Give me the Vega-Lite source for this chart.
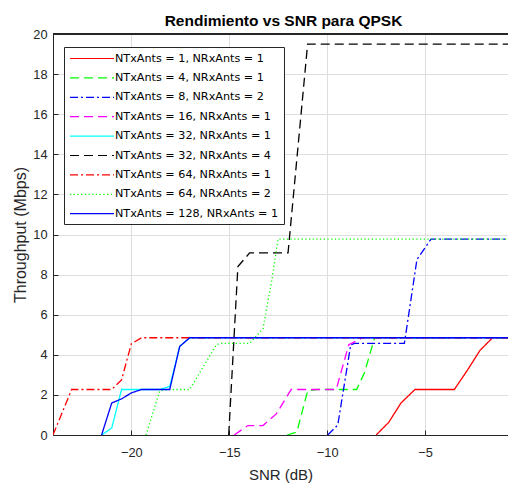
{
  "$schema": "https://vega.github.io/schema/vega-lite/v6.json",
  "width": 455,
  "height": 401,
  "autosize": {"type": "none"},
  "padding": {"left": 53, "top": 34, "right": 0, "bottom": 50},
  "background": "white",
  "title": {"text": "Rendimiento vs SNR para QPSK", "font": "Arial", "fontSize": 15.5, "fontWeight": "bold", "color": "black", "offset": 0, "dx": 3, "dy": 1.5},
  "config": {
    "view": {"stroke": null},
    "axis": {"domainColor": "#262626", "domainWidth": 1, "tickColor": "#262626", "tickSize": -5, "labelColor": "#262626", "labelFont": "Arial", "labelFontSize": 12.8, "titleFont": "Arial", "titleFontWeight": "normal", "titleColor": "#262626", "gridColor": "#dedede", "gridWidth": 1}
  },
  "data": {"values": [
    {"series": "NTxAnts = 1, NRxAnts = 1", "snr": -7.5, "thr": 0},
    {"series": "NTxAnts = 1, NRxAnts = 1", "snr": -6.86, "thr": 0.63},
    {"series": "NTxAnts = 1, NRxAnts = 1", "snr": -6.23, "thr": 1.6},
    {"series": "NTxAnts = 1, NRxAnts = 1", "snr": -5.52, "thr": 2.27},
    {"series": "NTxAnts = 1, NRxAnts = 1", "snr": -3.51, "thr": 2.27},
    {"series": "NTxAnts = 1, NRxAnts = 1", "snr": -2.83, "thr": 3.25},
    {"series": "NTxAnts = 1, NRxAnts = 1", "snr": -2.2, "thr": 4.22},
    {"series": "NTxAnts = 1, NRxAnts = 1", "snr": -1.56, "thr": 4.85},
    {"series": "NTxAnts = 1, NRxAnts = 1", "snr": -0.5, "thr": 4.85},
    {"series": "NTxAnts = 4, NRxAnts = 1", "snr": -12.05, "thr": 0},
    {"series": "NTxAnts = 4, NRxAnts = 1", "snr": -11.55, "thr": 0.15},
    {"series": "NTxAnts = 4, NRxAnts = 1", "snr": -11.0, "thr": 2.2},
    {"series": "NTxAnts = 4, NRxAnts = 1", "snr": -10.55, "thr": 2.27},
    {"series": "NTxAnts = 4, NRxAnts = 1", "snr": -8.5, "thr": 2.27},
    {"series": "NTxAnts = 4, NRxAnts = 1", "snr": -8.1, "thr": 3.1},
    {"series": "NTxAnts = 4, NRxAnts = 1", "snr": -7.58, "thr": 4.85},
    {"series": "NTxAnts = 4, NRxAnts = 1", "snr": -0.5, "thr": 4.85},
    {"series": "NTxAnts = 8, NRxAnts = 2", "snr": -9.97, "thr": 0},
    {"series": "NTxAnts = 8, NRxAnts = 2", "snr": -9.46, "thr": 0.5},
    {"series": "NTxAnts = 8, NRxAnts = 2", "snr": -8.8, "thr": 4.5},
    {"series": "NTxAnts = 8, NRxAnts = 2", "snr": -8.6, "thr": 4.57},
    {"series": "NTxAnts = 8, NRxAnts = 2", "snr": -6.06, "thr": 4.57},
    {"series": "NTxAnts = 8, NRxAnts = 2", "snr": -5.42, "thr": 8.75},
    {"series": "NTxAnts = 8, NRxAnts = 2", "snr": -4.7, "thr": 9.77},
    {"series": "NTxAnts = 8, NRxAnts = 2", "snr": -0.5, "thr": 9.77},
    {"series": "NTxAnts = 16, NRxAnts = 1", "snr": -14.75, "thr": 0},
    {"series": "NTxAnts = 16, NRxAnts = 1", "snr": -14.05, "thr": 0.47},
    {"series": "NTxAnts = 16, NRxAnts = 1", "snr": -13.28, "thr": 0.47},
    {"series": "NTxAnts = 16, NRxAnts = 1", "snr": -12.6, "thr": 1.05},
    {"series": "NTxAnts = 16, NRxAnts = 1", "snr": -11.84, "thr": 2.27},
    {"series": "NTxAnts = 16, NRxAnts = 1", "snr": -9.54, "thr": 2.27},
    {"series": "NTxAnts = 16, NRxAnts = 1", "snr": -8.9, "thr": 4.5},
    {"series": "NTxAnts = 16, NRxAnts = 1", "snr": -8.2, "thr": 4.85},
    {"series": "NTxAnts = 16, NRxAnts = 1", "snr": -0.5, "thr": 4.85},
    {"series": "NTxAnts = 32, NRxAnts = 1", "snr": -21.52, "thr": 0},
    {"series": "NTxAnts = 32, NRxAnts = 1", "snr": -21.0, "thr": 0.35},
    {"series": "NTxAnts = 32, NRxAnts = 1", "snr": -20.5, "thr": 2.27},
    {"series": "NTxAnts = 32, NRxAnts = 1", "snr": -18.55, "thr": 2.27},
    {"series": "NTxAnts = 32, NRxAnts = 1", "snr": -18.04, "thr": 2.42},
    {"series": "NTxAnts = 32, NRxAnts = 1", "snr": -17.53, "thr": 4.42},
    {"series": "NTxAnts = 32, NRxAnts = 1", "snr": -17.02, "thr": 4.85},
    {"series": "NTxAnts = 32, NRxAnts = 1", "snr": -0.5, "thr": 4.85},
    {"series": "NTxAnts = 32, NRxAnts = 4", "snr": -15.03, "thr": 0},
    {"series": "NTxAnts = 32, NRxAnts = 4", "snr": -14.56, "thr": 8.4},
    {"series": "NTxAnts = 32, NRxAnts = 4", "snr": -13.96, "thr": 9.08},
    {"series": "NTxAnts = 32, NRxAnts = 4", "snr": -12.0, "thr": 9.08},
    {"series": "NTxAnts = 32, NRxAnts = 4", "snr": -11.0, "thr": 19.5},
    {"series": "NTxAnts = 32, NRxAnts = 4", "snr": -0.5, "thr": 19.5},
    {"series": "NTxAnts = 64, NRxAnts = 1", "snr": -24.0, "thr": 0},
    {"series": "NTxAnts = 64, NRxAnts = 1", "snr": -23.05, "thr": 2.27},
    {"series": "NTxAnts = 64, NRxAnts = 1", "snr": -21.0, "thr": 2.27},
    {"series": "NTxAnts = 64, NRxAnts = 1", "snr": -20.5, "thr": 2.75},
    {"series": "NTxAnts = 64, NRxAnts = 1", "snr": -20.0, "thr": 4.55},
    {"series": "NTxAnts = 64, NRxAnts = 1", "snr": -19.48, "thr": 4.85},
    {"series": "NTxAnts = 64, NRxAnts = 1", "snr": -0.5, "thr": 4.85},
    {"series": "NTxAnts = 64, NRxAnts = 2", "snr": -19.25, "thr": 0},
    {"series": "NTxAnts = 64, NRxAnts = 2", "snr": -18.55, "thr": 2.2},
    {"series": "NTxAnts = 64, NRxAnts = 2", "snr": -18.04, "thr": 2.27},
    {"series": "NTxAnts = 64, NRxAnts = 2", "snr": -17.02, "thr": 2.27},
    {"series": "NTxAnts = 64, NRxAnts = 2", "snr": -15.66, "thr": 4.5},
    {"series": "NTxAnts = 64, NRxAnts = 2", "snr": -15.4, "thr": 4.57},
    {"series": "NTxAnts = 64, NRxAnts = 2", "snr": -13.96, "thr": 4.57},
    {"series": "NTxAnts = 64, NRxAnts = 2", "snr": -13.28, "thr": 5.3},
    {"series": "NTxAnts = 64, NRxAnts = 2", "snr": -12.85, "thr": 7.6},
    {"series": "NTxAnts = 64, NRxAnts = 2", "snr": -12.51, "thr": 9.77},
    {"series": "NTxAnts = 64, NRxAnts = 2", "snr": -0.5, "thr": 9.77},
    {"series": "NTxAnts = 128, NRxAnts = 1", "snr": -21.52, "thr": 0},
    {"series": "NTxAnts = 128, NRxAnts = 1", "snr": -21.0, "thr": 1.6},
    {"series": "NTxAnts = 128, NRxAnts = 1", "snr": -20.5, "thr": 1.8},
    {"series": "NTxAnts = 128, NRxAnts = 1", "snr": -20.0, "thr": 2.1},
    {"series": "NTxAnts = 128, NRxAnts = 1", "snr": -19.48, "thr": 2.27},
    {"series": "NTxAnts = 128, NRxAnts = 1", "snr": -18.04, "thr": 2.27},
    {"series": "NTxAnts = 128, NRxAnts = 1", "snr": -17.53, "thr": 4.42},
    {"series": "NTxAnts = 128, NRxAnts = 1", "snr": -17.02, "thr": 4.85},
    {"series": "NTxAnts = 128, NRxAnts = 1", "snr": -0.5, "thr": 4.85}
  ]},
  "layer": [
    {
      "mark": {"type": "line", "clip": true, "strokeWidth": 1.3},
      "encoding": {
        "x": {"field": "snr", "type": "quantitative", "scale": {"domain": [-24, -0.77], "nice": false, "zero": false},
              "axis": {"values": [-20, -15, -10, -5], "title": "SNR (dB)", "titleFontSize": 15, "labelPadding": 16, "titlePadding": 9}},
        "y": {"field": "thr", "type": "quantitative", "scale": {"domain": [0, 20], "nice": false},
              "axis": {"values": [0, 2, 4, 6, 8, 10, 12, 14, 16, 18, 20], "title": "Throughput (Mbps)", "titleFontSize": 16, "labelPadding": 11, "titlePadding": 4}},
        "color": {"field": "series", "type": "nominal",
          "scale": {"domain": ["NTxAnts = 1, NRxAnts = 1", "NTxAnts = 4, NRxAnts = 1", "NTxAnts = 8, NRxAnts = 2", "NTxAnts = 16, NRxAnts = 1", "NTxAnts = 32, NRxAnts = 1", "NTxAnts = 32, NRxAnts = 4", "NTxAnts = 64, NRxAnts = 1", "NTxAnts = 64, NRxAnts = 2", "NTxAnts = 128, NRxAnts = 1"],
                    "range": ["#ff0000", "#00ff00", "#0000ff", "#ff00ff", "#00ffff", "#000000", "#ff0000", "#00ff00", "#0000ff"]},
          "legend": {"orient": "none", "legendX": 11, "legendY": 13, "title": null, "symbolType": "M-1,0H7", "symbolSize": 121, "symbolStrokeWidth": 1.2, "labelFont": "DejaVu Sans", "labelFontSize": 11.2, "labelColor": "black", "labelOffset": 33, "labelLimit": 400, "rowPadding": 7.4, "padding": 5, "strokeColor": "#262626", "fillColor": "white", "cornerRadius": 0}},
        "strokeDash": {"field": "series", "type": "nominal",
          "scale": {"domain": ["NTxAnts = 1, NRxAnts = 1", "NTxAnts = 4, NRxAnts = 1", "NTxAnts = 8, NRxAnts = 2", "NTxAnts = 16, NRxAnts = 1", "NTxAnts = 32, NRxAnts = 1", "NTxAnts = 32, NRxAnts = 4", "NTxAnts = 64, NRxAnts = 1", "NTxAnts = 64, NRxAnts = 2", "NTxAnts = 128, NRxAnts = 1"],
                    "range": [[1, 0], [9, 5], [8, 3, 2, 3], [9, 5], [1, 0], [9, 5], [8, 3, 2, 3], [1.2, 2.5], [1, 0]]},
          "legend": {"orient": "none", "legendX": 11, "legendY": 13, "title": null, "symbolType": "M-1,0H7", "symbolSize": 121, "symbolStrokeWidth": 1.2, "labelFont": "DejaVu Sans", "labelFontSize": 11.2, "labelColor": "black", "labelOffset": 33, "labelLimit": 400, "rowPadding": 7.4, "padding": 5, "strokeColor": "#262626", "fillColor": "white", "cornerRadius": 0}}
      }
    },
    {
      "mark": {"type": "rule", "color": "#262626", "strokeWidth": 1},
      "encoding": {"y": {"datum": 20}}
    }
  ]
}
